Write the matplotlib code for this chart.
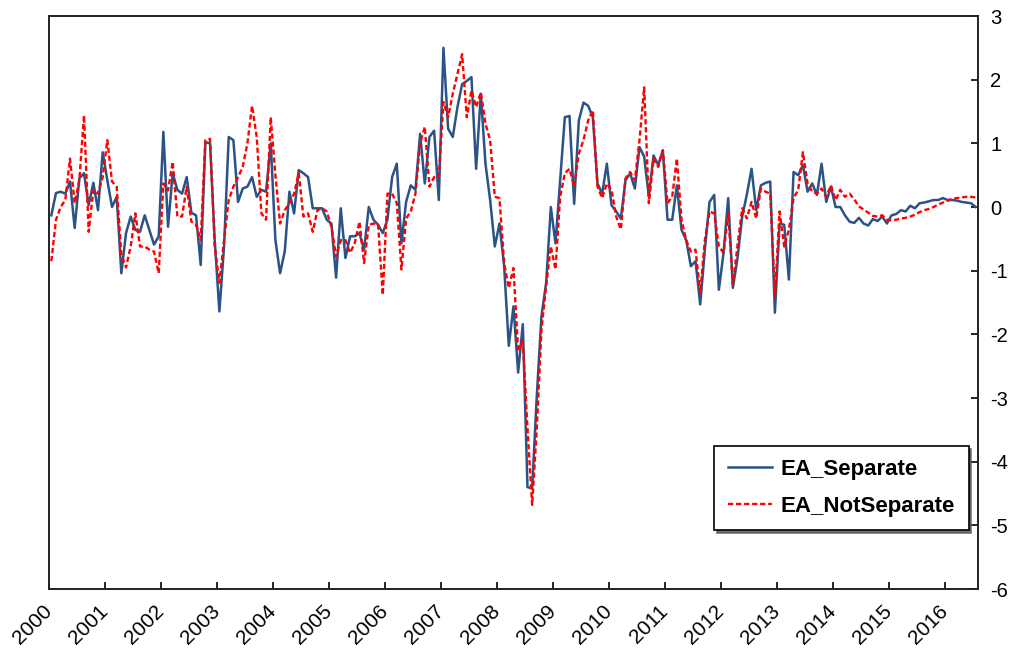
import numpy as np
import matplotlib
matplotlib.use("Agg")
import matplotlib.pyplot as plt

# monthly series, 2000M1 .. 2016M7
years = list(range(2000, 2017))

ea_separate = [
    -0.13, 0.22, 0.24, 0.21, 0.40, -0.33, 0.45, 0.53, 0.03, 0.38, -0.05, 0.86,
    0.42, 0.00, 0.16, -1.04, -0.41, -0.15, -0.36, -0.39, -0.13, -0.36, -0.59, -0.46,
    1.18, -0.31, 0.53, 0.27, 0.21, 0.47, -0.09, -0.13, -0.91, 1.02, 1.00, -0.52,
    -1.64, -0.62, 1.10, 1.05, 0.08, 0.29, 0.32, 0.47, 0.16, 0.27, 0.24, 1.00,
    -0.52, -1.04, -0.70, 0.24, -0.10, 0.58, 0.53, 0.47, -0.02, -0.02, -0.02, -0.20,
    -0.26, -1.11, -0.02, -0.80, -0.46, -0.46, -0.41, -0.67, 0.00, -0.20, -0.28, -0.41,
    -0.20, 0.47, 0.68, -0.57, 0.08, 0.34, 0.27, 1.15, 0.37, 1.10, 1.20, 0.11,
    2.50, 1.23, 1.10, 1.57, 1.93, 1.98, 2.04, 0.60, 1.78, 0.68, 0.11, -0.62,
    -0.26, -0.93, -2.18, -1.56, -2.60, -1.84, -4.40, -4.42, -2.96, -1.71, -1.19, 0.00,
    -0.57, 0.42, 1.41, 1.43, 0.05, 1.36, 1.64, 1.59, 1.41, 0.37, 0.21, 0.68,
    0.03, -0.07, -0.18, 0.42, 0.53, 0.29, 0.94, 0.79, 0.16, 0.81, 0.66, 0.89,
    -0.20, -0.20, 0.34, -0.36, -0.52, -0.93, -0.85, -1.53, -0.67, 0.08, 0.19, -1.30,
    -0.72, 0.14, -1.27, -0.80, -0.15, 0.20, 0.60, -0.05, 0.34, 0.38, 0.40, -1.66,
    -0.26, -0.28, -1.14, 0.55, 0.50, 0.66, 0.24, 0.37, 0.19, 0.68, 0.08, 0.32,
    0.00, 0.00, -0.13, -0.23, -0.25, -0.17, -0.26, -0.29, -0.19, -0.22, -0.15, -0.26,
    -0.13, -0.11, -0.05, -0.07, 0.02, -0.02, 0.06, 0.07, 0.09, 0.11, 0.11, 0.14,
    0.11, 0.11, 0.10, 0.08, 0.07, 0.06, 0.00,
]

ea_not_separate = [
    -0.85, -0.20, 0.00, 0.11, 0.76, 0.06, 0.42, 1.44, -0.39, 0.27, 0.21, 0.47,
    1.05, 0.40, 0.32, -0.75, -0.95, -0.62, -0.10, -0.62, -0.62, -0.67, -0.70, -1.04,
    0.37, 0.26, 0.71, -0.15, -0.15, 0.32, -0.23, -0.28, -0.52, 1.05, 1.07, -0.62,
    -1.19, -0.52, 0.11, 0.32, 0.47, 0.63, 1.00, 1.59, 1.10, -0.10, -0.20, 1.41,
    0.50, -0.26, -0.05, 0.06, 0.21, 0.53, -0.15, -0.10, -0.39, -0.05, -0.02, -0.07,
    -0.31, -0.78, -0.52, -0.52, -0.72, -0.57, -0.23, -0.88, -0.28, -0.26, -0.28, -1.38,
    0.21, 0.21, 0.06, -0.98, -0.18, -0.07, 0.21, 1.00, 1.26, 0.32, 0.47, 0.47,
    1.65, 1.41, 1.78, 2.09, 2.40, 1.41, 1.83, 1.57, 1.80, 1.31, 1.05, 0.16,
    0.14, -0.88, -1.27, -0.96, -2.26, -2.10, -3.48, -4.68, -3.48, -1.92, -1.24, -0.62,
    -0.98, 0.16, 0.53, 0.60, 0.32, 0.84, 1.05, 1.36, 1.52, 0.32, 0.14, 0.37,
    0.27, -0.15, -0.35, 0.45, 0.55, 0.42, 1.05, 1.88, 0.06, 0.76, 0.63, 0.89,
    0.06, 0.16, 0.76, -0.20, -0.52, -0.70, -0.67, -1.35, -0.52, -0.07, -0.10, -0.62,
    -0.72, -0.10, -1.22, -0.60, -0.02, -0.18, 0.08, -0.18, 0.29, 0.24, 0.21, -1.40,
    -0.07, -0.62, -0.36, 0.14, 0.27, 0.86, 0.37, 0.24, 0.21, 0.29, 0.16, 0.34,
    0.11, 0.27, 0.16, 0.21, 0.12, 0.01, -0.04, -0.09, -0.14, -0.15, -0.13, -0.20,
    -0.21, -0.20, -0.18, -0.17, -0.15, -0.12, -0.08, -0.05, -0.03, 0.00, 0.04, 0.07,
    0.10, 0.13, 0.14, 0.15, 0.16, 0.16, 0.15,
]

plt.rcParams["font.family"] = ["Liberation Sans", "DejaVu Sans"]
plt.rcParams["axes.unicode_minus"] = False

n = len(ea_separate)
x = np.arange(n)

fig = plt.figure(figsize=(10.25, 6.56), dpi=100)
ax = fig.add_axes([0.0478, 0.1021, 0.9063, 0.8735])

ax.plot(x, ea_separate, color="#2B5387", lw=1.8, label="EA_Separate")
ax.plot(x, ea_not_separate, color="#FF0000", lw=1.7, ls=(0, (2.2, 1.2)),
        label="EA_NotSeparate")

ax.set_xlim(-0.5, n - 0.5)
ax.set_ylim(-6, 3)
ax.set_yticks(range(-6, 4))
ax.yaxis.tick_right()
ax.tick_params(axis="y", direction="in", length=5, width=1.2, labelsize=14.5, pad=9)

ax.set_xticks([12 * i - 0.5 for i in range(len(years))])
ax.set_xticklabels([str(y) for y in years], rotation=45, ha="right", va="center",
                   rotation_mode="anchor", fontsize=15)
ax.tick_params(axis="x", direction="in", length=5, width=1.2, pad=14)

for s in ax.spines.values():
    s.set_linewidth(1.4)
    s.set_color("#222222")

leg = ax.legend(loc="lower right", bbox_to_anchor=(0.99, 0.103), fancybox=False,
                edgecolor="black", framealpha=1, handlelength=2.0,
                handletextpad=0.4, borderaxespad=0,
                prop={"weight": "bold", "size": 16}, borderpad=0.6,
                labelspacing=0.7,
                shadow={"color": "#555555", "alpha": 0.8, "ox": 2, "oy": -2})
leg.get_frame().set_linewidth(1.2)

fig.savefig("out.png", dpi=100)
